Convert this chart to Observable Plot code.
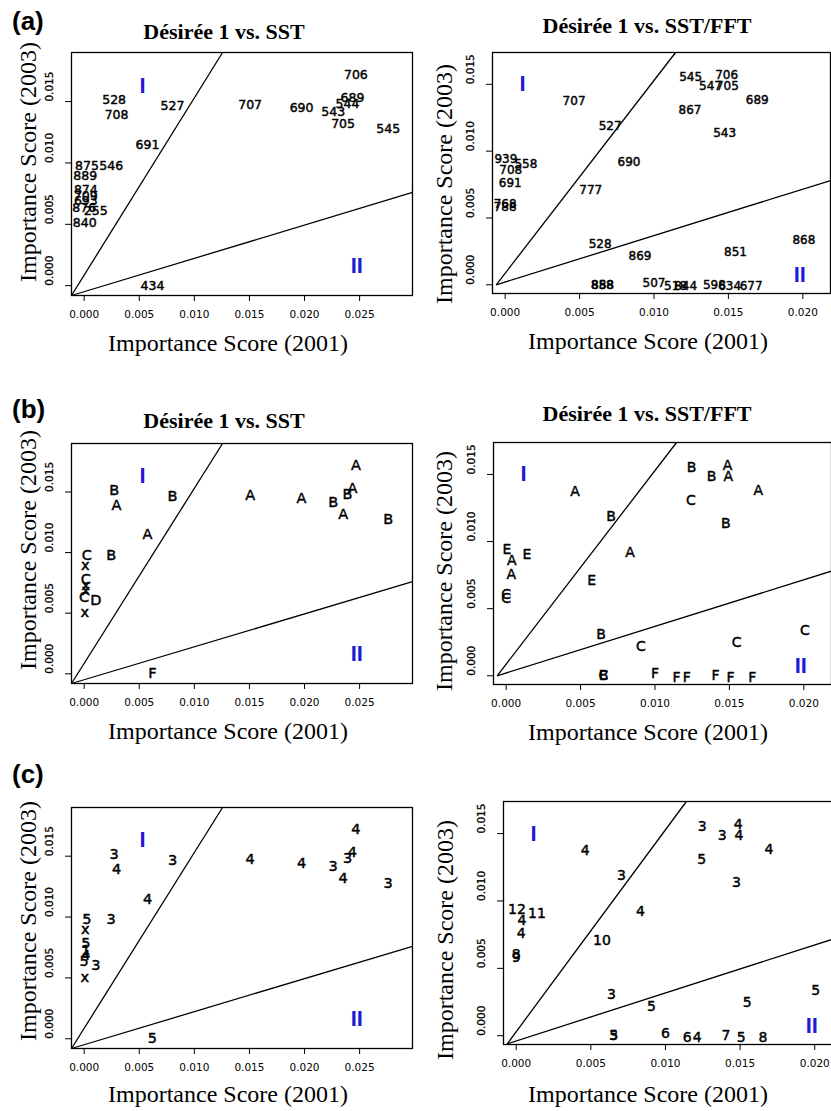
<!DOCTYPE html>
<html><head><meta charset="utf-8">
<script src="https://cdn.jsdelivr.net/npm/d3@7"></script>
<script src="https://cdn.jsdelivr.net/npm/@observablehq/plot@0.6"></script>
<style>
html,body{margin:0;padding:0;background:#fff;}
#fig{position:relative;width:831px;height:1111px;overflow:hidden;background:#fff;}
.t{position:absolute;white-space:nowrap;color:#000;line-height:1;}
.title{font-family:"Liberation Serif","Times New Roman",serif;font-weight:bold;font-size:22px;transform:translateX(-50%);}
.xl{font-family:"Liberation Serif","Times New Roman",serif;font-size:24px;transform:translateX(-50%);}
.yl{font-family:"Liberation Serif","Times New Roman",serif;font-size:24px;transform:translate(-50%,-50%) rotate(-90deg);}
.letter{font-family:"Liberation Sans",Arial,sans-serif;font-weight:bold;font-size:26px;}
</style></head><body><div id="fig"></div>
<script>
// ---------- data ----------
const xTicksLeft = [0, 0.005, 0.010, 0.015, 0.020, 0.025];
const xTicksRight = [0, 0.005, 0.010, 0.015, 0.020];
const yTicks = [0, 0.005, 0.010, 0.015];
const xDomainLeft = [-0.00115, 0.0298];
const yDomainLeft = [-0.0008, 0.019];
const xDomainRight = [-0.00085, 0.02186];
const yDomainRight = [-0.00065, 0.01738];

// SST comparison (left column): importance 2001 (x) vs 2003 (y)
const leftX = [0.02466, 0.02435, 0.0239, 0.0226, 0.01973, 0.01506, 0.0235, 0.02759, 0.00802, 0.00272, 0.00294, 0.00575, 0.00025, 0.00245, 0.0001, 0.00015, 0.00015, 0.00015, 0.0, 0.00105, 0.00005, 0.0062];
const leftY = [0.0172, 0.0153, 0.01481, 0.01418, 0.01445, 0.01476, 0.01318, 0.01277, 0.01467, 0.01516, 0.01391, 0.01149, 0.00978, 0.00978, 0.00897, 0.0078, 0.00728, 0.00687, 0.00633, 0.00606, 0.00508, 0.0];
const leftIds = ["706","689","544","543","690","707","705","545","527","528","708","691","875","546","889","874","709","693","876","255","840","434"];
const leftGroups = ["A","A","B","B","A","A","A","B","B","B","A","A","C","B","x","C","x","x","C","D","x","F"];
const leftCodes = ["4","4","3","3","4","4","4","3","3","3","4","4","5","3","x","5","1","4","5","3","x","5"];

// SST/FFT comparison (right column)
const rightX = [0.01246, 0.01488, 0.0138, 0.01493, 0.01694, 0.01242, 0.01475, 0.00463, 0.00705, 0.00832, 0.00575, 0.00005, 0.00038, 0.00139, 0.00034, 0.0, 0.0, 0.00638, 0.00906, 0.01548, 0.02007, 0.00654, 0.00654, 0.0100, 0.01145, 0.01213, 0.01406, 0.01508, 0.01653];
const rightY = [0.01555, 0.0157, 0.01483, 0.01483, 0.01382, 0.01307, 0.01136, 0.01371, 0.01188, 0.0092, 0.00707, 0.0094, 0.00856, 0.00906, 0.00757, 0.00603, 0.00578, 0.00305, 0.00216, 0.00248, 0.00335, 0.0, 0.0, 0.00015, -0.0001, -0.0001, 0.0, -0.0001, -0.0001];
const rightIds = ["545","706","547","705","689","867","543","707","527","690","777","939","708","558","691","768","788","528","869","851","868","888","858","507","518","844","598","634","677"];
const rightGroups = ["B","A","B","A","A","C","B","A","B","A","E","E","A","E","A","C","C","B","C","C","C","C","B","F","F","F","F","F","F"];
const rightCodes = ["3","4","3","4","4","5","3","4","3","4","10","12","4","11","4","8","9","3","5","5","5","5","3","6","6","4","7","5","8"];

// Region markers
const regionText = ["I", "II"];
const regionLeftX = [0.0053, 0.02475];
const regionLeftY = [0.0163, 0.00163];
const regionRightX = [0.00117, 0.0198];
const regionRightY = [0.0150, 0.00074];

// Boundary lines [x1, y1, x2, y2]
const leftLines = [[-0.00115, -0.0008, 0.01256, 0.019], [-0.00115, -0.0008, 0.0298, 0.0076]];
const rightLinesAB = [[-0.0006, 0, 0.01145, 0.01738], [-0.0006, 0, 0.02186, 0.0078]];
const rightLinesC = [[-0.0006, -0.0006, 0.0114, 0.01738], [-0.0006, -0.0006, 0.02186, 0.0074]];

const titles = ["Désirée 1 vs. SST", "Désirée 1 vs. SST/FFT"];
const xLabel = "Importance Score (2001)";
const yLabel = "Importance Score (2003)";
const panelLetters = ["(a)", "(b)", "(c)"];

// ---------- layout ----------
const fig = document.getElementById("fig");
const fmt = d3.format(".3f");

function panel(o) {
  const ML = 70, MR = 2, MT = 12, MB = 42;
  const W = o.fx1 - o.fx0 + ML + MR, H = o.fy1 - o.fy0 + MT + MB;
  const svg = Plot.plot({
    width: W, height: H,
    marginLeft: ML, marginRight: MR, marginTop: MT, marginBottom: MB,
    style: {fontFamily: "DejaVu Sans", fontSize: "10.5px", background: "none", overflow: "visible", color: "#000"},
    x: {domain: o.xDomain, ticks: o.xTicks, tickFormat: fmt, tickSize: 6, tickPadding: 9, label: null},
    y: {domain: o.yDomain, ticks: yTicks, tickFormat: () => "", tickSize: 6, tickPadding: 2, label: null},
    marks: [
      Plot.frame({stroke: "#000", strokeWidth: 1.3}),
      Plot.link(o.lines, {x1: d => d[0], y1: d => d[1], x2: d => d[2], y2: d => d[3], stroke: "#000", strokeWidth: 1.3}),
      Plot.text(yTicks, {y: d => d, text: fmt, frameAnchor: "left", dx: -22, rotate: -90, fontSize: 10.5, fontFamily: "DejaVu Sans", fill: "#000", stroke: "#000", strokeWidth: 0.3}),
      Plot.text(o.labels, {x: o.xs, y: o.ys, text: o.labels, fontSize: o.size, fontFamily: "DejaVu Sans", fill: "#000", stroke: "#000", strokeWidth: 0.45}),
      Plot.text(regionText, {x: o.rx, y: o.ry, text: d => d, fontSize: 22, fontWeight: "bold", fontFamily: "Liberation Sans", fill: "#1c1cd8"})
    ]
  });
  svg.style.position = "absolute";
  svg.style.left = (o.fx0 - ML) + "px";
  svg.style.top = (o.fy0 - MT) + "px";
  svg.style.maxWidth = "none";
  fig.appendChild(svg);
}

function addText(cls, txt, left, top) {
  const d = document.createElement("div");
  d.className = "t " + cls;
  d.textContent = txt;
  d.style.left = left + "px";
  d.style.top = top + "px";
  fig.appendChild(d);
}

const L = {xDomain: xDomainLeft, yDomain: yDomainLeft, xTicks: xTicksLeft, lines: leftLines, xs: leftX, ys: leftY, rx: regionLeftX, ry: regionLeftY};
const R = {xDomain: xDomainRight, yDomain: yDomainRight, xTicks: xTicksRight, xs: rightX, ys: rightY, rx: regionRightX, ry: regionRightY};

panel({...L, fx0: 71, fx1: 412, fy0: 52, fy1: 295, labels: leftIds, size: 12.5});
panel({...R, fx0: 492, fx1: 830, fy0: 52, fy1: 293, lines: rightLinesAB, labels: rightIds, size: 12});
panel({...L, fx0: 71, fx1: 412, fy0: 443, fy1: 683, labels: leftGroups, size: 14.5});
panel({...R, fx0: 493, fx1: 831, fy0: 442, fy1: 684, lines: rightLinesAB, labels: rightGroups, size: 14});
panel({...L, fx0: 71, fx1: 412, fy0: 807, fy1: 1048, labels: leftCodes, size: 14.5});
panel({...R, fx0: 503, fx1: 842, fy0: 801, fy1: 1044, lines: rightLinesC, labels: rightCodes, size: 14});

// titles
addText("title", titles[0], 224, 21);
addText("title", titles[1], 647, 15);
addText("title", titles[0], 224, 410);
addText("title", titles[1], 647, 403);
// x labels
addText("xl", xLabel, 228, 331);
addText("xl", xLabel, 648, 329);
addText("xl", xLabel, 228, 719);
addText("xl", xLabel, 648, 720);
addText("xl", xLabel, 228, 1082);
addText("xl", xLabel, 648, 1082);
// y labels
addText("yl", yLabel, 28, 162);
addText("yl", yLabel, 444, 184);
addText("yl", yLabel, 28, 550);
addText("yl", yLabel, 444, 571);
addText("yl", yLabel, 28, 921);
addText("yl", yLabel, 445, 940);
// panel letters
addText("letter", panelLetters[0], 12, 8);
addText("letter", panelLetters[1], 12, 396);
addText("letter", panelLetters[2], 12, 761);
</script></body></html>
